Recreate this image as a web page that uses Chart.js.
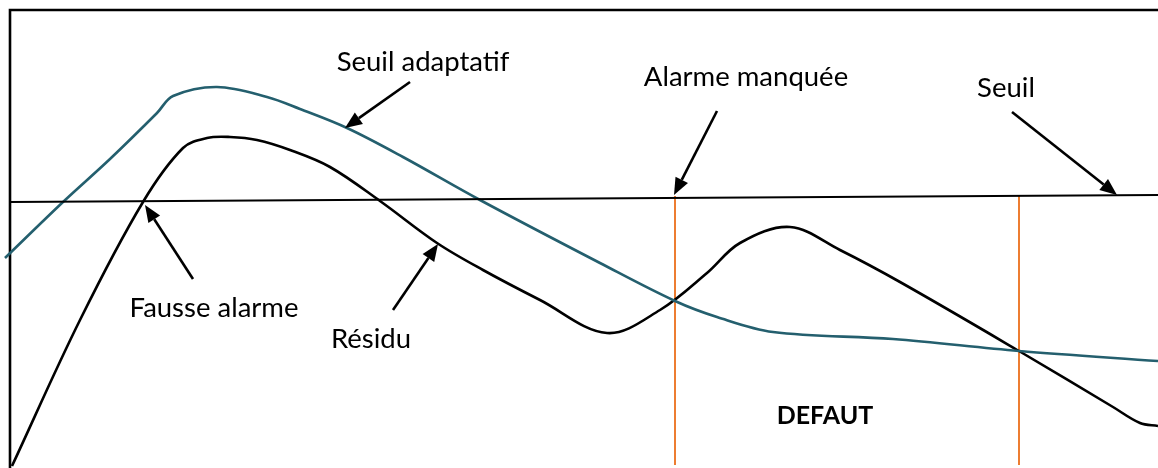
<!DOCTYPE html>
<html lang="fr">

<head>
    <meta charset="UTF-8">
    <title>Seuil adaptatif</title>
    <style>
        body { margin: 0; background: #fff; }
        #wrap { width: 1158px; height: 468px; }
    </style>
</head>

<body>
    <div id="wrap">
        <canvas id="chart" width="1158" height="468"></canvas>
    </div>
    <script src="https://cdn.jsdelivr.net/npm/chart.js@4.4.1/dist/chart.umd.min.js"></script>
    <script>
        // residu (time, amplitude)
        const residuX = [12, 80, 143, 183, 207, 230, 257, 290, 330, 380, 437, 483, 540, 607, 660, 707, 740, 790, 840, 900, 1019, 1113, 1140, 1158]
        const residuY = [2, 148, 266, 320, 330, 331, 328, 318, 301, 267, 225, 198, 168, 135, 158, 195, 225, 241, 218, 186, 117, 61, 45, 42]

        // seuil adaptatif
        const adaptX = [5, 63, 110, 157, 173, 217, 267, 300, 347, 403, 480, 600, 675, 717, 773, 893, 1019, 1158]
        const adaptY = [210, 266, 309, 355, 372, 381, 371, 359, 340, 311, 268, 205, 167, 151, 136, 129, 117, 107]

        // seuil fixe
        const seuilX = [10, 1158]
        const seuilY = [266, 273]

        // instants de defaut (lignes verticales)
        const defautX = [675, 1019]
        const defautLow = 3
        const defautHigh = 272

        // cadre : axe vertical + bord haut
        const frameX = [10, 10, 1158]
        const frameY = [0, 458, 458]

        const toPoints = (xs, ys) => xs.map((x, i) => ({ x: x, y: ys[i] }))

        const annotations = [
            { text: 'Seuil adaptatif', x: 423, y: 397, tail: [410, 386], tip: [345, 340] },
            { text: 'Alarme manquée', x: 746, y: 382, tail: [717, 357], tip: [674, 273] },
            { text: 'Seuil', x: 1006, y: 371, tail: [1012, 356], tip: [1117, 273] },
            { text: 'Fausse alarme', x: 214, y: 151, tail: [193, 189], tip: [145, 263] },
            { text: 'Résidu', x: 371, y: 120, tail: [393, 158], tip: [438, 224] },
            { text: 'DEFAUT', x: 825, y: 44, bold: true }
        ]

        const lineSet = (data, color, width, extra) => Object.assign({
            data: data,
            borderColor: color,
            borderWidth: width,
            pointRadius: 0,
            fill: false,
            tension: 0
        }, extra || {})

        const datasets = [
            lineSet(toPoints(seuilX, seuilY), '#000', 2),
            lineSet(toPoints(adaptX, adaptY), '#245f6e', 2.6, { tension: 0.35 }),
            lineSet(toPoints(residuX, residuY), '#000', 2.6, { tension: 0.35 }),
            lineSet(toPoints(frameX, frameY), '#000', 2.6)
        ]
        defautX.forEach(x => {
            datasets.push(lineSet([{ x: x, y: defautLow }, { x: x, y: defautHigh }], '#ed7d31', 2))
        })

        const annotationPlugin = {
            id: 'annotations',
            afterDatasetsDraw(chart) {
                const ctx = chart.ctx
                const xs = chart.scales.x
                const ys = chart.scales.y
                ctx.save()
                ctx.fillStyle = '#000'
                ctx.strokeStyle = '#000'
                ctx.textAlign = 'center'
                ctx.textBaseline = 'alphabetic'
                annotations.forEach(a => {
                    ctx.font = (a.bold ? 'bold 25px' : '27.5px') + ' Lato, "Open Sans", sans-serif'
                    ctx.fillText(a.text, xs.getPixelForValue(a.x), ys.getPixelForValue(a.y))
                    if (!a.tail) return
                    const x1 = xs.getPixelForValue(a.tail[0])
                    const y1 = ys.getPixelForValue(a.tail[1])
                    const x2 = xs.getPixelForValue(a.tip[0])
                    const y2 = ys.getPixelForValue(a.tip[1])
                    const ang = Math.atan2(y2 - y1, x2 - x1)
                    const headLen = 17
                    const headW = 7
                    const bx = x2 - headLen * Math.cos(ang)
                    const by = y2 - headLen * Math.sin(ang)
                    ctx.lineWidth = 2.6
                    ctx.beginPath()
                    ctx.moveTo(x1, y1)
                    ctx.lineTo(bx, by)
                    ctx.stroke()
                    ctx.beginPath()
                    ctx.moveTo(x2, y2)
                    ctx.lineTo(bx + headW * Math.sin(ang), by - headW * Math.cos(ang))
                    ctx.lineTo(bx - headW * Math.sin(ang), by + headW * Math.cos(ang))
                    ctx.closePath()
                    ctx.fill()
                })
                ctx.restore()
            }
        }

        new Chart(document.getElementById('chart'), {
            type: 'line',
            data: { datasets: datasets },
            options: {
                responsive: false,
                animation: false,
                layout: { padding: 0 },
                plugins: {
                    legend: { display: false },
                    tooltip: { enabled: false }
                },
                scales: {
                    x: { type: 'linear', min: 0, max: 1158, display: false },
                    y: { type: 'linear', min: 0, max: 468, display: false }
                }
            },
            plugins: [annotationPlugin]
        })
    </script>
</body>

</html>
